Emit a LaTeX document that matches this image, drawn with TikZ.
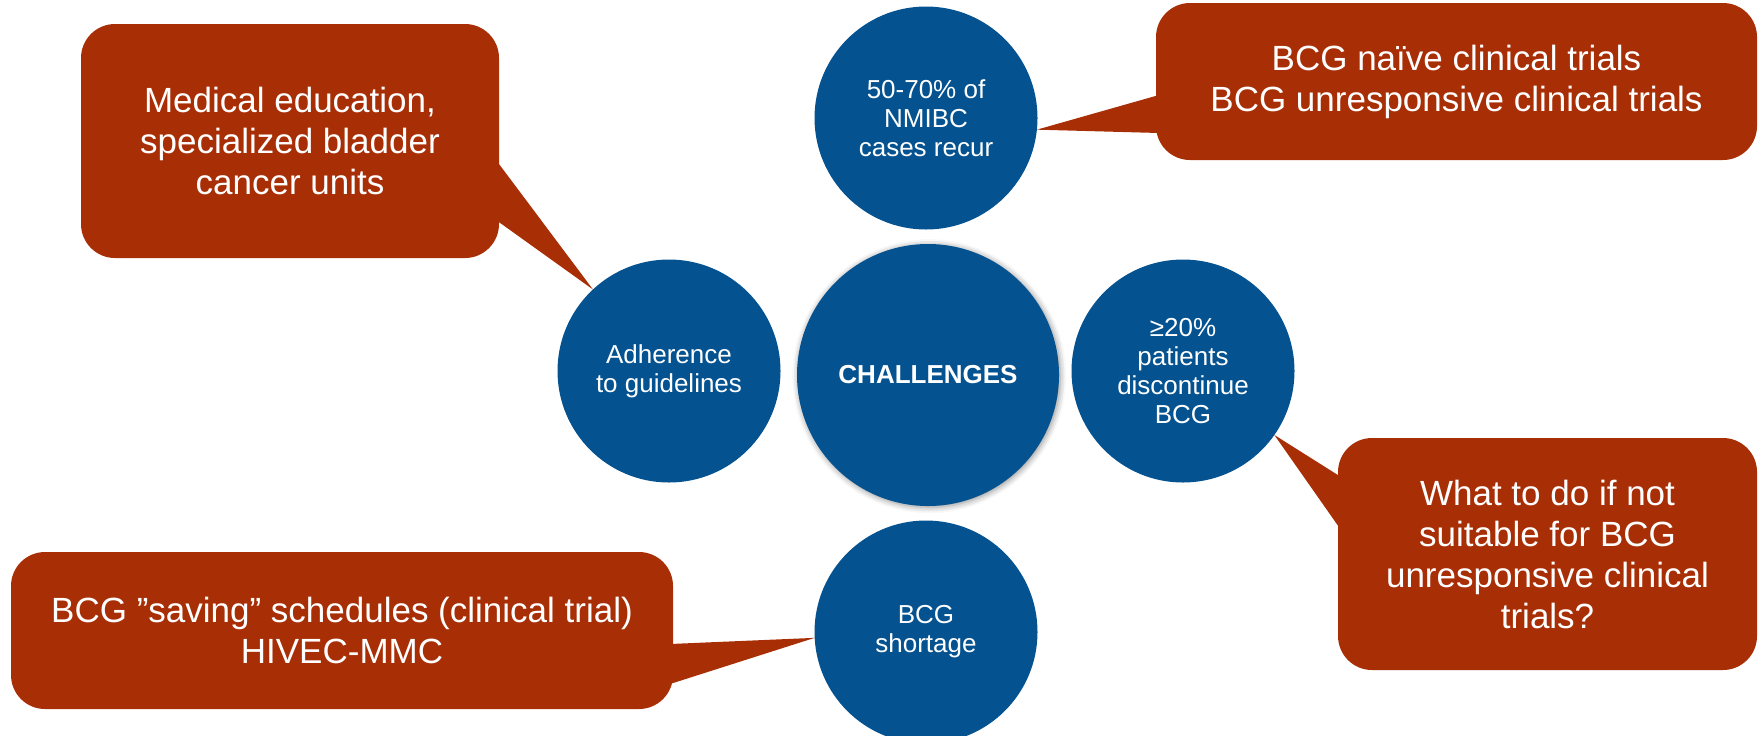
\documentclass[tikz,border=0pt]{standalone}
\usepackage{fontspec}
\setmainfont{Liberation Sans}
\usetikzlibrary{calc,shadows.blur}
\definecolor{dotblue}{RGB}{4,82,144}
\definecolor{callred}{RGB}{168,46,6}

\begin{document}
\begin{tikzpicture}[x=0.5pt,y=-0.5pt,
    dot/.style={circle, fill=dotblue, text=white, minimum size=111.5pt, inner sep=0pt, outer sep=0pt, align=center, font=\fontsize{13}{14.5}\selectfont},
    callout/.style={rounded corners=17pt, fill=callred, text=white, inner sep=0pt, outer sep=0pt, align=center, font=\fontsize{17.5}{20.5}\selectfont},
    tail/.style={fill=callred}]
    \useasboundingbox (0,0) rectangle (1764,735);
    % circles
    \node[dot, minimum size=131pt, blur shadow={shadow xshift=0.6pt, shadow yshift=-0.6pt, shadow blur radius=3pt, shadow opacity=45}, font=\bfseries\fontsize{13}{15}\selectfont] (chal) at (928,375) {CHALLENGES};
    \node[dot] (adh) at (669,371) {Adherence\\to guidelines};
    \node[dot] (recur) at (926,118) {50-70\% of\\NMIBC\\cases recur};
    \node[dot] (disc) at (1183,371) {≥20\%\\patients\\discontinue\\BCG};
    \node[dot] (short) at (926,632) {BCG\\shortage};
    % callouts
    \node[callout, minimum width=209pt, minimum height=117pt] (tl) at (290,141) {Medical education,\\specialized bladder\\cancer units};
    \node[callout, minimum width=300.5pt, minimum height=78.5pt] (tr) at (1456.5,81.5) {BCG naïve clinical trials\\BCG unresponsive clinical trials};
    \node[callout, minimum width=209.5pt, minimum height=116pt] (br) at (1547.5,554) {What to do if not\\suitable for BCG\\unresponsive clinical\\trials?};
    \node[callout, minimum width=331pt, minimum height=78.5pt] (bl) at (342,630.5) {BCG ”saving” schedules (clinical trial)\\HIVEC-MMC};
    % pointers
    \fill[tail] ($(tl.east)+(-3,19)$) -- (adh.133) -- ($(tl.east)+(-3,79)$) -- cycle;
    \fill[tail] ($(tr.west)+(3,13.5)$) -- (recur.-6) -- ($(tr.west)+(3,51.5)$) -- cycle;
    \fill[tail] ($(br.west)+(3,-77)$) -- (disc.-35) -- ($(br.west)+(3,-24)$) -- cycle;
    \fill[tail] ($(bl.east)+(-3,13.5)$) -- (short.183) -- ($(bl.east)+(-3,53.5)$) -- cycle;
\end{tikzpicture}
\end{document}
